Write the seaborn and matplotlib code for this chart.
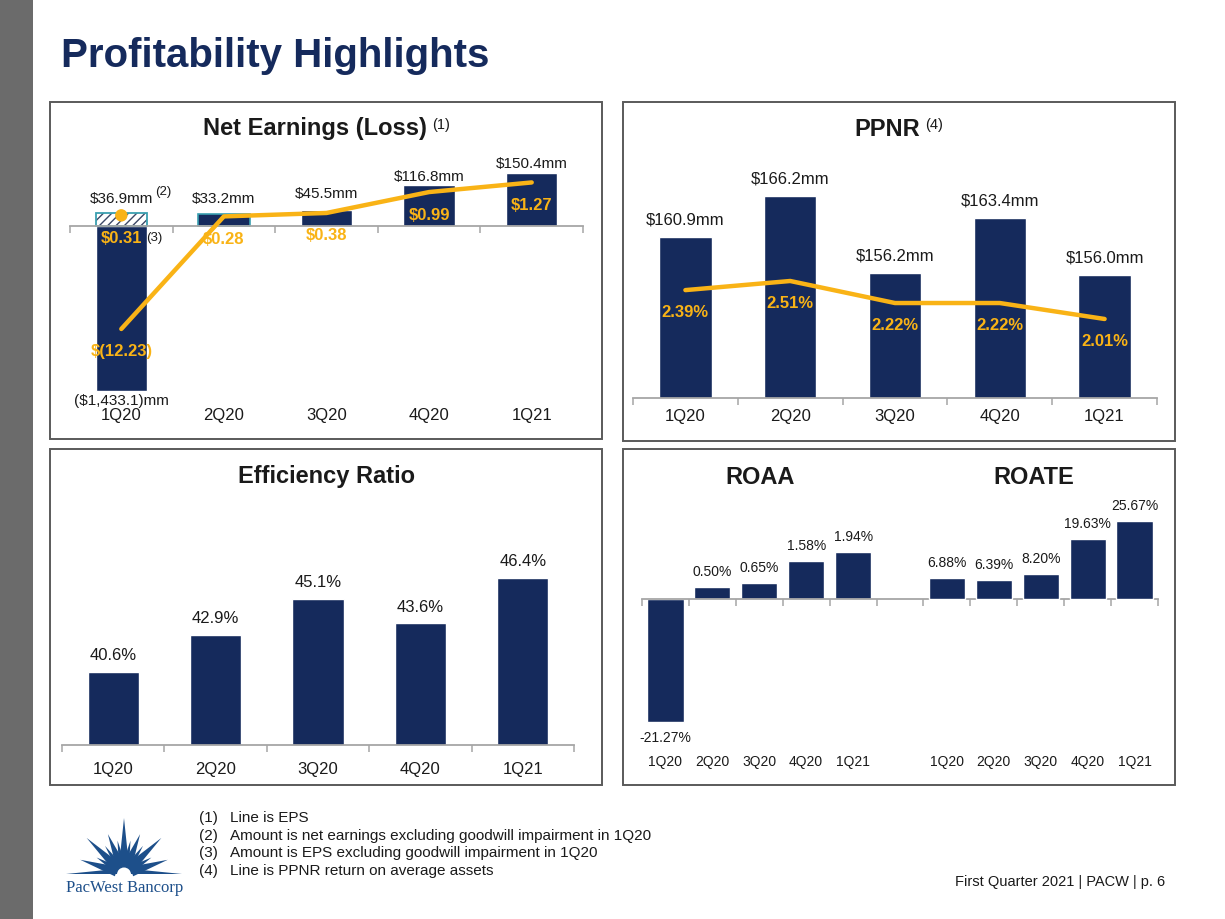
import numpy as np
import matplotlib
matplotlib.use('Agg')
import matplotlib.pyplot as plt
from matplotlib.patches import Rectangle, Polygon, Wedge
import seaborn as sns

# ---- data ----
quarters = ['1Q20', '2Q20', '3Q20', '4Q20', '1Q21']
net_earnings = [-1433.1, 33.2, 45.5, 116.8, 150.4]      # $mm
net_earnings_ex_gw = [36.9]                               # 1Q20 excl. goodwill impairment
eps = [-12.23, 0.28, 0.38, 0.99, 1.27]
eps_ex_gw = [0.31]                                        # 1Q20 excl. goodwill impairment
ppnr = [160.9, 166.2, 156.2, 163.4, 156.0]               # $mm
ppnr_roaa = [2.39, 2.51, 2.22, 2.22, 2.01]               # %
efficiency = [40.6, 42.9, 45.1, 43.6, 46.4]              # %
roaa = [-21.27, 0.50, 0.65, 1.58, 1.94]                  # %
roate = [6.88, 6.39, 8.20, 19.63, 25.67]                 # %
footnotes = [
    'Line is EPS',
    'Amount is net earnings excluding goodwill impairment in 1Q20',
    'Amount is EPS excluding goodwill impairment in 1Q20',
    'Line is PPNR return on average assets',
]

NAVY = '#152a5c'
GOLD = '#f9b316'
TEAL = '#3a9fb0'
HATCH = '#3c4866'
AXIS_GREY = '#a6a6a6'
BORDER = '#5a5a5a'
TXT = '#1a1a1a'
LOGO = '#1d4f8a'

W, H = 1225, 919

sns.set_style('white')
plt.rcParams['font.family'] = ['Liberation Sans', 'DejaVu Sans']
plt.rcParams['hatch.linewidth'] = 1.0


def box(x0, y0, x1, y1):
    """pixel box (top-left origin) -> figure fraction rect"""
    return [x0 / W, 1 - y1 / H, (x1 - x0) / W, (y1 - y0) / H]


def squash_negative(k):
    # the slide draws negative values on a compressed scale
    return (lambda v: np.where(v < 0, v * k, v),
            lambda v: np.where(v < 0, v / k, v))


def style_axis(ax, n, labels, fontsize, pad, at_zero=False):
    for s in ['left', 'right', 'top']:
        ax.spines[s].set_visible(False)
    ax.spines['bottom'].set_color(AXIS_GREY)
    ax.spines['bottom'].set_linewidth(1.3)
    if at_zero:
        ax.spines['bottom'].set_position(('data', 0))
    ax.set_yticks([])
    ax.set_xlabel('')
    ax.set_ylabel('')
    ax.set_xticks(np.arange(-0.5, n), minor=True)
    ax.tick_params(axis='x', which='minor', bottom=True, length=5, width=1.1,
                   color=AXIS_GREY, direction='out')
    ax.tick_params(axis='x', which='major', length=0, labelbottom=False)
    ax.set_xlim(-0.5, n - 0.5)
    sec = ax.secondary_xaxis('bottom')
    sec.set_xticks(range(n), labels=labels)
    sec.spines['bottom'].set_visible(False)
    sec.tick_params(length=0, pad=pad, labelsize=fontsize, labelcolor=TXT)


def hide_twin(ax):
    for s in ax.spines.values():
        s.set_visible(False)
    ax.set_yticks([])
    ax.set_ylabel('')
    ax.set_xlabel('')


def label(ax, x, y, text, dy, **kw):
    kw.setdefault('fontsize', 12)
    kw.setdefault('color', TXT)
    return ax.annotate(text, (x, y), xytext=(0, dy), textcoords='offset pixels',
                       ha='center', va='center', **kw)


def title_with_note(cx, cy, text, note):
    t = fig.text(cx / W, 1 - cy / H, text, fontsize=17, fontweight='bold',
                 color=TXT, ha='center', va='center')
    ann = matplotlib.text.Annotation(note, xy=(1, 1), xycoords=t,
                                     xytext=(5, -1), textcoords='offset pixels',
                                     ha='left', va='top', fontsize=10.5,
                                     color=TXT)
    fig.add_artist(ann)


fig = plt.figure(figsize=(W / 100, H / 100), dpi=100)

# slide furniture
fig.add_artist(Rectangle((0, 0), 33 / W, 1, transform=fig.transFigure,
                         color='#6b6b6b', lw=0))
fig.text(61 / W, 1 - 56 / H, 'Profitability Highlights', fontsize=29,
         fontweight='bold', color=NAVY, va='center', ha='left')
for x0, y0, x1, y1 in [(50, 102, 602, 439), (623, 102, 1175, 441),
                       (50, 449, 602, 785), (623, 449, 1175, 785)]:
    fig.add_artist(Rectangle((x0 / W, 1 - y1 / H), (x1 - x0) / W, (y1 - y0) / H,
                             transform=fig.transFigure, fill=False,
                             ec=BORDER, lw=1.4))

# ---------------- Net Earnings (Loss) ----------------
ax = fig.add_axes(box(70, 150, 583, 405))
sns.barplot(x=quarters, y=net_earnings, order=quarters, color=NAVY, width=0.5,
            saturation=1, errorbar=None, ax=ax)
ax.containers[-1].patches[1].set_edgecolor(TEAL)
ax.containers[-1].patches[1].set_linewidth(1.2)
sns.barplot(x=quarters[:1], y=net_earnings_ex_gw, order=quarters, color='white',
            width=0.5, saturation=1, errorbar=None, ax=ax)
for p in ax.containers[-1].patches:
    p.set_facecolor('white')
    p.set_edgecolor(HATCH)
    p.set_hatch('////')
    p.set_linewidth(0)
sns.barplot(x=quarters[:1], y=net_earnings_ex_gw, order=quarters, color=TEAL,
            width=0.5, saturation=1, errorbar=None, fill=False, linewidth=1.3, ax=ax)
ax.set_yscale('function', functions=squash_negative(0.327))
ax.set_ylim(-1555, 216)
style_axis(ax, 5, quarters, 12, 2, at_zero=True)

mm_lift = [14, 15, 16, 8, 9]
tops = net_earnings_ex_gw + net_earnings[1:]
for i, v in enumerate(tops):
    t = label(ax, i, v, f'${v:.1f}mm', mm_lift[i], fontsize=11)
    if i == 0:
        ax.annotate('(2)', xy=(1, 1), xycoords=t, xytext=(2, 0),
                    textcoords='offset pixels', ha='left', va='center',
                    fontsize=9.5, color=TXT)
label(ax, 0, net_earnings[0], f'(${abs(net_earnings[0]):,.1f})mm', -10, fontsize=11)

ax2 = ax.twinx()
sns.lineplot(x=list(range(len(eps))), y=eps, color=GOLD, lw=3.2, ax=ax2)
sns.scatterplot(x=[0], y=eps_ex_gw, color=GOLD, s=80, edgecolor='none', ax=ax2,
                zorder=5)
ax2.set_yscale('function', functions=squash_negative(0.2455))
ax2.set_ylim(-21.26, 2.216)
hide_twin(ax2)
eps_pts = eps_ex_gw + eps[1:]
for i, v in enumerate(eps_pts):
    t = label(ax2, i, v, f'${v:.2f}', -23, color=GOLD, fontweight='bold')
    if i == 0:
        ax2.annotate('(3)', xy=(1, 0.55), xycoords=t, xytext=(4, 0),
                     textcoords='offset pixels', ha='left', va='center',
                     fontsize=9.5, color=TXT)
label(ax2, 0, eps[0], f'$({abs(eps[0]):.2f})', -23, color=GOLD, fontweight='bold')

title_with_note(315, 129, 'Net Earnings (Loss)', '(1)')

# ---------------- PPNR ----------------
ax = fig.add_axes(box(633, 150, 1157, 398))
sns.barplot(x=quarters, y=ppnr, order=quarters, color=NAVY, width=0.5,
            saturation=1, errorbar=None, ax=ax)
ax.set_ylim(140, 172.2)
style_axis(ax, 5, quarters, 12, 8)
for i, v in enumerate(ppnr):
    label(ax, i, v, f'${v:.1f}mm', 17)

ax2 = ax.twinx()
sns.lineplot(x=list(range(len(ppnr_roaa))), y=ppnr_roaa, color=GOLD, lw=3.2, ax=ax2)
ax2.set_ylim(0.97, 4.234)
hide_twin(ax2)
for i, v in enumerate(ppnr_roaa):
    label(ax2, i, v, f'{v:.2f}%', -22.5, color=GOLD, fontweight='bold')

title_with_note(887, 129, 'PPNR', '(4)')

# ---------------- Efficiency Ratio ----------------
ax = fig.add_axes(box(62, 500, 574, 745))
sns.barplot(x=quarters, y=efficiency, order=quarters, color=NAVY, width=0.5,
            saturation=1, errorbar=None, ax=ax)
ax.set_ylim(36.1, 51.2)
style_axis(ax, 5, quarters, 12, 12.5)
for i, v in enumerate(efficiency):
    label(ax, i, v, f'{v:.1f}%', 16)
fig.text(326 / W, 1 - 477 / H, 'Efficiency Ratio', fontsize=17, fontweight='bold',
         color=TXT, ha='center', va='center')

# ---------------- ROAA / ROATE ----------------
roaa_keys = ['ROAA ' + q for q in quarters]
roate_keys = ['ROATE ' + q for q in quarters]
slots = roaa_keys + ['gap'] + roate_keys

ax = fig.add_axes(box(642, 500, 1158, 745))
sns.barplot(x=roaa_keys, y=roaa, order=slots, color=NAVY, width=0.77,
            saturation=1, errorbar=None, ax=ax)
ax.set_yscale('function', functions=squash_negative(0.238))
ax.set_ylim(-25.3, 4.09)
style_axis(ax, len(slots), quarters + [''] + quarters, 10, 7.5, at_zero=True)
for i, v in enumerate(roaa):
    label(ax, i, v, f'{v:.2f}%', 15 if v >= 0 else -16, fontsize=10)

ax2 = ax.twinx()
sns.barplot(x=roate_keys, y=roate, order=slots, color=NAVY, width=0.77,
            saturation=1, errorbar=None, ax=ax2)
ax2.set_ylim(-47.9, 32.5)
hide_twin(ax2)
for i, v in enumerate(roate):
    label(ax2, i + len(quarters) + 1, v, f'{v:.2f}%', 15, fontsize=10)

for cx, name in [(760, 'ROAA'), (1034, 'ROATE')]:
    fig.text(cx / W, 1 - 477 / H, name, fontsize=17, fontweight='bold',
             color=TXT, ha='center', va='center')

# ---------------- footnotes ----------------
for i, note in enumerate(footnotes):
    y = 1 - (818 + i * 17.6) / H
    fig.text(199 / W, y, f'({i + 1})', fontsize=11, color=TXT, va='center')
    fig.text(230 / W, y, note, fontsize=11, color=TXT, va='center')
fig.text(1165 / W, 1 - 882 / H, 'First Quarter 2021 | PACW | p. 6', fontsize=10.5,
         color=TXT, ha='right', va='center')

# ---------------- logo ----------------
lg = fig.add_axes(box(50, 805, 200, 900))
lg.set_xlim(50, 200)
lg.set_ylim(900, 805)     # pixel-like coords, y grows downwards
lg.axis('off')
cx, cy = 124, 874
rays = [(0, 58), (18, 46), (44, 52), (68, 43), (90, 56), (112, 43), (136, 52),
        (162, 46), (180, 58), (31, 32), (56, 34), (79, 34), (101, 34),
        (124, 34), (149, 32)]
for ang, length in rays:
    a = np.deg2rad(ang)
    u = np.array([np.cos(a), -np.sin(a)])
    nrm = np.array([-u[1], u[0]])
    c = np.array([cx, cy])
    w = 5.0 if length > 40 else 3.6
    if ang in (0, 180):
        # horizon rays sit flat on the base line
        pts = [c + 8 * u, c + length * u, c + 8 * u + np.array([0, -w])]
    else:
        pts = [c + 8 * u + w * nrm, c + length * u, c + 8 * u - w * nrm]
    lg.add_patch(Polygon(pts, closed=True, color=LOGO, lw=0))
# with the inverted y axis, 180..360 degrees is the upper half
lg.add_patch(Wedge((cx, cy), 15, 180, 360, color=LOGO, lw=0))
lg.add_patch(Wedge((cx, cy + 0.5), 7, 180, 360, color='white', lw=0))
lg.text(125, 888, 'PacWest Bancorp', family=['Liberation Serif', 'DejaVu Serif'],
        fontsize=12, color=LOGO, ha='center', va='center')

fig.savefig('out.png', dpi=100)
